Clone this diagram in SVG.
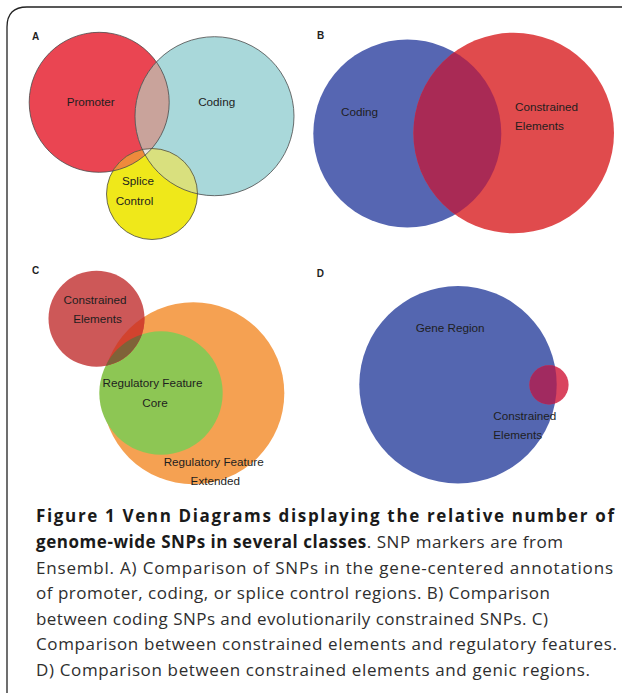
<svg xmlns="http://www.w3.org/2000/svg" width="622" height="693" viewBox="0 0 622 693">
<style>
.lbl{font-family:"Liberation Sans",Arial,sans-serif;font-size:11.7px;fill:#1e1e1e}
.pl{font-family:"Liberation Sans",Arial,sans-serif;font-size:10px;font-weight:bold;fill:#1e1e1e}
.cap{font-family:"Open Sans","Liberation Sans",sans-serif;font-size:17px;fill:#2e2e2e}
.b{font-weight:bold;fill:#1a1a1a}
.edge{fill:none;stroke:#4a4a4a;stroke-width:0.8}
</style>
<defs>
<clipPath id="cAP"><circle cx="99.2" cy="102.3" r="70"/></clipPath>
<clipPath id="cAC"><circle cx="214.5" cy="116.2" r="79.5"/></clipPath>
<clipPath id="cB1"><circle cx="407.3" cy="133.5" r="94"/></clipPath>
<clipPath id="cCR"><circle cx="96.5" cy="318.7" r="48"/></clipPath>
<clipPath id="cD1"><circle cx="458" cy="384.7" r="98.7"/></clipPath>
</defs>
<rect width="622" height="693" fill="#ffffff"/>
<path d="M7 693 V27 Q7 7 27 7 H622" fill="none" stroke="#222" stroke-width="1.3"/>

<g id="panelA">
<text class="pl" x="32" y="40">A</text>
<circle cx="99.2" cy="102.3" r="70" fill="#EA4552"/>
<circle cx="214.5" cy="116.2" r="79.5" fill="#A9D8DA"/>
<circle cx="152" cy="194" r="45.5" fill="#EFE81A"/>
<g clip-path="url(#cAP)"><circle cx="214.5" cy="116.2" r="79.5" fill="#C9A39B"/><circle cx="152" cy="194" r="45.5" fill="#EE8A3C"/></g>
<g clip-path="url(#cAC)"><circle cx="152" cy="194" r="45.5" fill="#D9E07E"/></g>
<g clip-path="url(#cAP)"><g clip-path="url(#cAC)"><circle cx="152" cy="194" r="45.5" fill="#E8E4E0"/></g></g>
<circle class="edge" cx="99.2" cy="102.3" r="70"/>
<circle class="edge" cx="214.5" cy="116.2" r="79.5"/>
<circle class="edge" cx="152" cy="194" r="45.5"/>
<text class="lbl" x="90.7" y="105.5" text-anchor="middle">Promoter</text>
<text class="lbl" x="216.7" y="105.5" text-anchor="middle">Coding</text>
<text class="lbl" x="138" y="184.5" text-anchor="middle">Splice</text>
<text class="lbl" x="134.5" y="205" text-anchor="middle">Control</text>
</g>

<g id="panelB">
<text class="pl" x="317" y="39">B</text>
<circle cx="407.3" cy="133.5" r="94" fill="#5666B2"/>
<circle cx="513.7" cy="133" r="100.3" fill="#E04B4D"/>
<g clip-path="url(#cB1)"><circle cx="513.7" cy="133" r="100.3" fill="#A92A55"/></g>
<text class="lbl" x="341" y="116">Coding</text>
<text class="lbl" x="515" y="111">Constrained</text>
<text class="lbl" x="515" y="130">Elements</text>
</g>

<g id="panelC">
<text class="pl" x="32" y="274">C</text>
<circle cx="193.3" cy="393.3" r="91" fill="#F5A152"/>
<circle cx="161" cy="393" r="61.7" fill="#8DC654"/>
<circle cx="96.5" cy="318.7" r="48" fill="#CD5858"/>
<g clip-path="url(#cCR)"><circle cx="193.3" cy="393.3" r="91" fill="#D2432E"/><circle cx="161" cy="393" r="61.7" fill="#7F6238"/></g>
<text class="lbl" x="95" y="304" text-anchor="middle">Constrained</text>
<text class="lbl" x="97.5" y="322.7" text-anchor="middle">Elements</text>
<text class="lbl" x="152.5" y="387.3" text-anchor="middle">Regulatory Feature</text>
<text class="lbl" x="155" y="406.7" text-anchor="middle">Core</text>
<text class="lbl" x="213.7" y="466" text-anchor="middle">Regulatory Feature</text>
<text class="lbl" x="215.3" y="485" text-anchor="middle">Extended</text>
</g>

<g id="panelD">
<text class="pl" x="316.7" y="276.7">D</text>
<circle cx="458" cy="384.7" r="98.7" fill="#5466B0"/>
<circle cx="549" cy="384.8" r="19.6" fill="#D9445F"/>
<g clip-path="url(#cD1)"><circle cx="549" cy="384.8" r="19.6" fill="#A12A60"/></g>
<text class="lbl" x="415.7" y="331.7">Gene Region</text>
<text class="lbl" x="493.3" y="420">Constrained</text>
<text class="lbl" x="493.3" y="439">Elements</text>
</g>

<g id="caption">
<text class="cap b" x="36" y="522" textLength="578">Figure 1 Venn Diagrams displaying the relative number of</text>
<text class="cap" x="36" y="548" textLength="527"><tspan class="b">genome-wide SNPs in several classes</tspan>. SNP markers are from</text>
<text class="cap" x="36" y="573.5" textLength="577">Ensembl. A) Comparison of SNPs in the gene-centered annotations</text>
<text class="cap" x="36" y="599" textLength="514">of promoter, coding, or splice control regions. B) Comparison</text>
<text class="cap" x="36" y="624.5" textLength="512">between coding SNPs and evolutionarily constrained SNPs. C)</text>
<text class="cap" x="36" y="650" textLength="581">Comparison between constrained elements and regulatory features.</text>
<text class="cap" x="36" y="675.5" textLength="554">D) Comparison between constrained elements and genic regions.</text>
</g>
</svg>
